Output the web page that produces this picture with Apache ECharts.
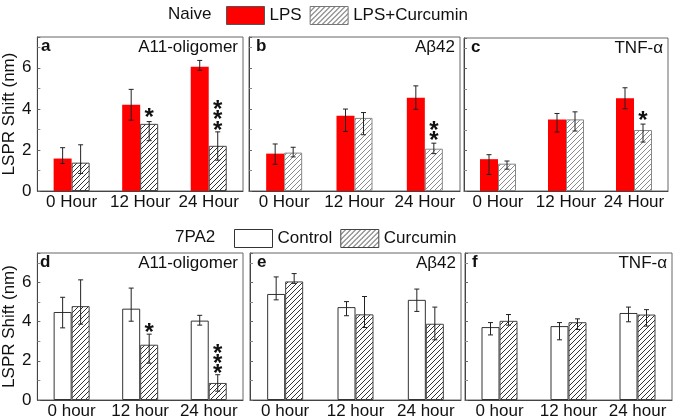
<!DOCTYPE html>
<html>
<head>
<meta charset="utf-8">
<script src="https://cdn.jsdelivr.net/npm/echarts@6/dist/echarts.min.js"></script>
<style>html,body{margin:0;padding:0;background:#fff}#c{width:675px;height:420px}</style>
</head>
<body>
<div id="c"></div>
<script>
// ---------------- data ----------------
const catsTop = ['0 Hour', '12 Hour', '24 Hour'];
const catsBottom = ['0 hour', '12 hour', '24 hour'];
const panelLetters = ['a', 'b', 'c', 'd', 'e', 'f'];
const panelTitles = ['A11-oligomer', 'Aβ42', 'TNF-α', 'A11-oligomer', 'Aβ42', 'TNF-α'];

// top row: Naive cells, LPS vs LPS+Curcumin
const a_LPS = [1.58, 4.20, 6.05];
const a_LPS_err = [[1.34, 2.11], [3.45, 4.95], [5.88, 6.36]];
const a_Cur = [1.38, 3.27, 2.20];
const a_Cur_err = [[0.85, 2.25], [2.45, 3.38], [1.50, 2.88]];
const b_LPS = [1.82, 3.66, 4.54];
const b_LPS_err = [[1.30, 2.29], [2.90, 3.99], [3.98, 5.12]];
const b_Cur = [1.87, 3.56, 2.06];
const b_Cur_err = [[1.66, 2.13], [2.74, 3.82], [1.82, 2.33]];
const c_LPS = [1.56, 3.51, 4.55];
const c_LPS_err = [[0.81, 1.78], [2.89, 3.80], [4.03, 5.06]];
const c_Cur = [1.34, 3.51, 2.99];
const c_Cur_err = [[1.07, 1.47], [2.94, 3.88], [2.40, 3.28]];

// bottom row: 7PA2 cells, Control vs Curcumin
const d_Ctrl = [4.49, 4.66, 4.05];
const d_Ctrl_err = [[3.68, 5.24], [4.02, 5.71], [3.82, 4.32]];
const d_Cur = [4.79, 2.82, 0.87];
const d_Cur_err = [[3.87, 6.13], [1.88, 3.36], [0.45, 1.29]];
const e_Ctrl = [5.41, 4.74, 5.11];
const e_Ctrl_err = [[5.11, 6.28], [4.30, 5.02], [4.52, 5.66]];
const e_Cur = [6.05, 4.37, 3.89];
const e_Cur_err = [[5.95, 6.45], [3.70, 5.28], [3.07, 4.74]];
const f_Ctrl = [3.72, 3.77, 4.44];
const f_Ctrl_err = [[3.32, 3.95], [3.07, 3.95], [3.99, 4.74]];
const f_Cur = [4.04, 3.97, 4.36];
const f_Cur_err = [[3.82, 4.36], [3.60, 4.14], [3.77, 4.61]];

// significance stars: [category index, value at star centre]
const a_stars = [[1, 3.83], [2, 4.23], [2, 3.72], [2, 3.19]];
const b_stars = [[2, 3.19], [2, 2.70]];
const c_stars = [[2, 3.70]];
const d_stars = [[1, 3.70], [2, 2.64], [2, 2.13], [2, 1.63]];
const e_stars = [];
const f_stars = [];

const yMin = 0, yMax = 7.5, yInterval = 2;

// ---------------- layout / style ----------------
const FONT = 'Liberation Sans, Arial, sans-serif';
const grids = [
  {left: 34, top: 37, width: 209, height: 154},
  {left: 249, top: 37, width: 211, height: 154},
  {left: 464, top: 38, width: 204, height: 153},
  {left: 33, top: 253, width: 210, height: 148},
  {left: 250, top: 253, width: 211, height: 148},
  {left: 465, top: 253, width: 207, height: 148}
];

function hatch(line, bg) {
  const s = 5;
  const cv = document.createElement('canvas');
  cv.width = s; cv.height = s;
  const ctx = cv.getContext('2d');
  ctx.fillStyle = bg; ctx.fillRect(0, 0, s, s);
  ctx.strokeStyle = line; ctx.lineWidth = 1;
  ctx.beginPath();
  ctx.moveTo(0, s); ctx.lineTo(s, 0);
  ctx.moveTo(-1, 1); ctx.lineTo(1, -1);
  ctx.moveTo(s - 1, s + 1); ctx.lineTo(s + 1, s - 1);
  ctx.stroke();
  return {image: cv, repeat: 'repeat'};
}
const hatchDark = hatch('#333', '#fff');
const hatchLight = hatch('#8a8a8a', '#fff');

const BAR_W = 18;

const panels = [
  {s1: a_LPS, e1: a_LPS_err, s2: a_Cur, e2: a_Cur_err, stars: a_stars, top: true},
  {s1: b_LPS, e1: b_LPS_err, s2: b_Cur, e2: b_Cur_err, stars: b_stars, top: true},
  {s1: c_LPS, e1: c_LPS_err, s2: c_Cur, e2: c_Cur_err, stars: c_stars, top: true},
  {s1: d_Ctrl, e1: d_Ctrl_err, s2: d_Cur, e2: d_Cur_err, stars: d_stars, top: false},
  {s1: e_Ctrl, e1: e_Ctrl_err, s2: e_Cur, e2: e_Cur_err, stars: e_stars, top: false},
  {s1: f_Ctrl, e1: f_Ctrl_err, s2: f_Cur, e2: f_Cur_err, stars: f_stars, top: false}
];

const xAxes = [], yAxes = [], series = [], titles = [];

panels.forEach((p, i) => {
  const g = grids[i];
  xAxes.push({
    type: 'category', gridIndex: i, data: p.top ? catsTop : catsBottom,
    axisLine: {lineStyle: {color: '#444', width: 1}},
    axisTick: {show: false},
    axisLabel: {color: '#111', fontSize: 17, fontFamily: FONT, margin: 3, interval: 0, hideOverlap: false}
  });
  const labeled = (i === 0 || i === 3);
  yAxes.push({
    type: 'value', gridIndex: i, min: yMin, max: yMax, interval: yInterval,
    name: labeled ? 'LSPR Shift (nm)' : '',
    nameLocation: 'middle', nameGap: 16,
    nameTextStyle: {color: '#111', fontSize: 17, fontFamily: FONT},
    axisLine: {show: true, lineStyle: {color: '#444', width: 1}},
    axisTick: {show: true, inside: true, length: 3, lineStyle: {color: '#666'}},
    minorTick: {show: true, splitNumber: 2, length: 3, lineStyle: {color: '#888'}},
    splitLine: {show: false},
    axisLabel: {show: labeled, color: '#111', fontSize: 17, fontFamily: FONT, margin: 6, showMaxLabel: false}
  });
  const n1 = p.top ? 'LPS' : 'Control';
  const n2 = p.top ? 'LPS+Curcumin' : 'Curcumin';
  const hp = (i === 1 || i === 2) ? hatchLight : hatchDark;
  series.push({
    type: 'bar', name: n1, xAxisIndex: i, yAxisIndex: i, data: p.s1,
    barWidth: BAR_W, barGap: '0%',
    itemStyle: p.top ? {color: '#ff0000'} : {color: '#fff', borderColor: '#333', borderWidth: 1},
    emphasis: {disabled: true}, z: 2
  });
  series.push({
    type: 'bar', name: n2, xAxisIndex: i, yAxisIndex: i, data: p.s2,
    barWidth: BAR_W, barGap: '0%',
    itemStyle: {color: hp, borderColor: (i === 1 || i === 2) ? '#888' : '#444', borderWidth: 1},
    emphasis: {disabled: true}, z: 2
  });
  [[p.e1, -BAR_W / 2], [p.e2, BAR_W / 2]].forEach(([errs, off]) => {
    series.push({
      type: 'custom', xAxisIndex: i, yAxisIndex: i, z: 5, silent: true,
      data: errs.map((e, k) => [k, e[0], e[1]]),
      encode: {x: 0, y: [1, 2]},
      renderItem: function (params, api) {
        const k = api.value(0);
        const lo = api.coord([k, api.value(1)]);
        const hi = api.coord([k, api.value(2)]);
        const x = lo[0] + off, cw = 2.5;
        const st = {stroke: '#222', lineWidth: 1};
        return {type: 'group', children: [
          {type: 'line', shape: {x1: x, y1: lo[1], x2: x, y2: hi[1]}, style: st},
          {type: 'line', shape: {x1: x - cw, y1: lo[1], x2: x + cw, y2: lo[1]}, style: st},
          {type: 'line', shape: {x1: x - cw, y1: hi[1], x2: x + cw, y2: hi[1]}, style: st}
        ]};
      }
    });
  });
  if (p.stars.length) {
    series.push({
      type: 'custom', xAxisIndex: i, yAxisIndex: i, z: 6, silent: true,
      data: p.stars,
      encode: {x: 0, y: 1},
      renderItem: function (params, api) {
        const pt = api.coord([api.value(0), api.value(1)]);
        return {type: 'text', x: pt[0] + BAR_W / 2, y: pt[1] + 6,
          style: {text: '*', fill: '#111', font: 'bold 24px ' + FONT, textAlign: 'center', textVerticalAlign: 'middle'}};
      }
    });
  }
  titles.push({
    text: panelLetters[i], left: g.left + 7, top: g.top + 1, padding: 0,
    textStyle: {fontSize: 17, fontWeight: 'bold', color: '#111', fontFamily: FONT}
  });
  titles.push({
    text: panelTitles[i], right: 675 - (g.left + g.width) + 5, top: g.top + 2, padding: 0,
    textStyle: {fontSize: 17, fontWeight: 'normal', color: '#111', fontFamily: FONT}
  });
});

const option = {
  animation: false,
  backgroundColor: '#fff',
  title: titles,
  grid: grids.map(g => Object.assign({show: true, borderColor: '#666', borderWidth: 1, containLabel: false}, g)),
  xAxis: xAxes,
  yAxis: yAxes,
  legend: [
    {data: [{name: 'LPS', itemStyle: {borderColor: '#555', borderWidth: 1}}, {name: 'LPS+Curcumin', itemStyle: {borderColor: '#777', borderWidth: 1}}],
     left: 226, top: 6, padding: 0, itemWidth: 38, itemHeight: 18, itemGap: 8, selectedMode: false,
     icon: 'rect', textStyle: {fontSize: 17, color: '#111', fontFamily: FONT}},
    {data: [{name: 'Control', itemStyle: {borderColor: '#333', borderWidth: 1}}, {name: 'Curcumin', itemStyle: {borderColor: '#444', borderWidth: 1}}],
     left: 234, top: 229, padding: 0, itemWidth: 38, itemHeight: 18, itemGap: 8, selectedMode: false,
     icon: 'rect', textStyle: {fontSize: 17, color: '#111', fontFamily: FONT}}
  ],
  graphic: [
    {type: 'text', left: 168, top: 6, style: {text: 'Naive', font: '17px ' + FONT, fill: '#111'}},
    {type: 'text', left: 175, top: 229, style: {text: '7PA2', font: '17px ' + FONT, fill: '#111'}}
  ],
  series: series
};

const chart = echarts.init(document.getElementById('c'), null, {renderer: 'canvas'});
chart.setOption(option);
</script>
</body>
</html>
